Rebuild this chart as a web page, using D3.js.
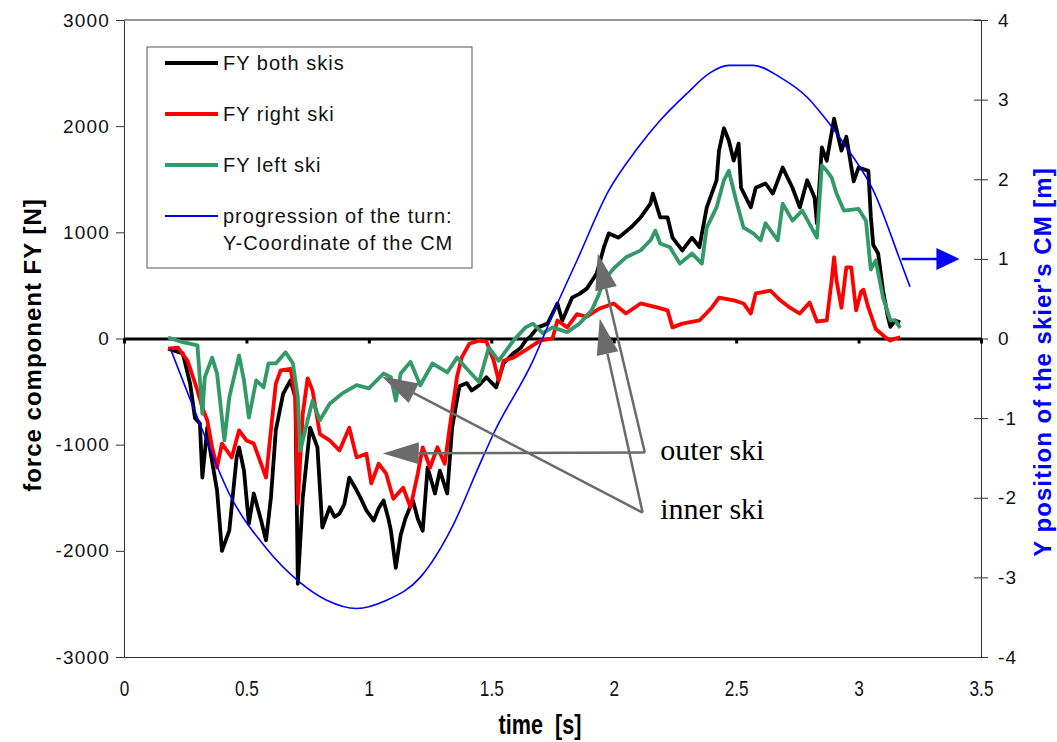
<!DOCTYPE html>
<html>
<head>
<meta charset="utf-8">
<style>
    body { margin: 0; background: #fff; }
    svg { display: block; font-family: "Liberation Sans", Arial, sans-serif; }
    .frame { stroke: #333; stroke-width: 1; fill: none; }
    .yl .tick text, .yr .tick text { font-size: 19px; letter-spacing: 1.2px; fill: #111; }
    .yl .tick line, .yr .tick line { stroke: #333; }
    .yl .domain, .yr .domain { stroke: #333; }
    .xb .tick text { font-size: 22px; fill: #111; }
    .xb .domain { stroke: #333; }
    .zero .domain { stroke: #000; stroke-width: 3; }
    .zero .tick line { stroke: #000; stroke-width: 3; }
    .title { font-weight: bold; font-size: 24px; letter-spacing: 1px; }
    .legend text { font-size: 20px; letter-spacing: 1px; fill: #111; }
    .note { font-family: "Liberation Serif", "Times New Roman", serif; font-size: 30px; fill: #000; }
</style>
</head>
<body>
<svg width="1057" height="742"></svg>

<script src="https://d3js.org/d3.v7.min.js"></script>
<script>
// time [s] , force FY [N]
let fyBoth = [
    [0.18, -95], [0.24, -140], [0.27, -425], [0.29, -750], [0.31, -800], [0.32, -1310], [0.34, -840],
    [0.35, -1025], [0.38, -1430], [0.40, -2000], [0.43, -1810], [0.46, -1120], [0.47, -1025], [0.49, -1245],
    [0.51, -1745], [0.53, -1460], [0.56, -1715], [0.58, -1900], [0.60, -1500], [0.62, -865], [0.65, -520],
    [0.68, -395], [0.70, -555], [0.71, -2310], [0.73, -1500], [0.76, -840], [0.79, -1025], [0.81, -1780],
    [0.84, -1590], [0.86, -1680], [0.88, -1650], [0.90, -1560], [0.92, -1310], [0.95, -1430], [0.97, -1520],
    [0.99, -1620], [1.02, -1715], [1.04, -1600], [1.06, -1525], [1.08, -1700], [1.09, -1810], [1.11, -2160],
    [1.13, -1850], [1.15, -1690], [1.18, -1525], [1.20, -1700], [1.22, -1810], [1.24, -1215], [1.27, -1460],
    [1.29, -1245], [1.32, -1460], [1.34, -840], [1.37, -450], [1.40, -420], [1.42, -490], [1.45, -440],
    [1.48, -365], [1.52, -460], [1.55, -235], [1.59, -140], [1.62, -90], [1.64, -20], [1.66, 20], [1.69, 105],
    [1.73, 140], [1.77, 330], [1.79, 170], [1.83, 385], [1.86, 420], [1.89, 470], [1.93, 610], [1.96, 860],
    [1.98, 990], [2.02, 950], [2.07, 1045], [2.11, 1140], [2.15, 1270], [2.16, 1365], [2.19, 1140],
    [2.22, 1140], [2.24, 950], [2.28, 830], [2.32, 950], [2.35, 860], [2.38, 1235], [2.42, 1490], [2.43, 1770],
    [2.45, 1980], [2.47, 1865], [2.49, 1675], [2.51, 1835], [2.52, 1420], [2.56, 1235], [2.58, 1420],
    [2.62, 1460], [2.65, 1365], [2.69, 1610], [2.73, 1420], [2.76, 1235], [2.79, 1490], [2.82, 1330],
    [2.83, 1085], [2.85, 1800], [2.87, 1675], [2.90, 2070], [2.93, 1770], [2.95, 1900], [2.98, 1480],
    [3.00, 1610], [3.04, 1580], [3.05, 1150], [3.06, 880], [3.08, 800], [3.10, 450], [3.12, 200], [3.13, 110],
    [3.15, 170], [3.17, 150]
]

let fyRight = [
    [0.18, -95], [0.22, -85], [0.26, -210], [0.30, -490], [0.32, -650], [0.34, -770], [0.36, -1025],
    [0.38, -1215], [0.40, -990], [0.44, -1120], [0.47, -865], [0.50, -960], [0.53, -990], [0.56, -1180],
    [0.58, -1310], [0.60, -865], [0.62, -425], [0.64, -300], [0.68, -285], [0.70, -555], [0.71, -1555],
    [0.73, -710], [0.75, -375], [0.77, -490], [0.80, -900], [0.84, -960], [0.88, -1055], [0.92, -840],
    [0.95, -1120], [0.99, -1085], [1.01, -1365], [1.04, -1180], [1.07, -1270], [1.10, -1510], [1.14, -1405],
    [1.17, -1590], [1.20, -1270], [1.22, -1025], [1.25, -1215], [1.28, -1025], [1.31, -1180], [1.33, -840],
    [1.36, -360], [1.38, -175], [1.41, -50], [1.45, -20], [1.48, -30], [1.51, -210], [1.53, -395],
    [1.55, -210], [1.59, -180], [1.64, -110], [1.70, -20], [1.75, 0], [1.77, 170], [1.81, 105], [1.85, 230],
    [1.89, 205], [1.94, 280], [2.00, 330], [2.05, 235], [2.11, 330], [2.18, 290], [2.22, 265], [2.24, 105],
    [2.28, 140], [2.35, 170], [2.40, 290], [2.43, 385], [2.49, 360], [2.53, 330], [2.56, 235], [2.58, 425],
    [2.64, 450], [2.68, 360], [2.72, 290], [2.76, 235], [2.80, 340], [2.83, 160], [2.87, 170], [2.89, 545],
    [2.90, 765], [2.91, 545], [2.93, 290], [2.95, 670], [2.97, 670], [2.99, 265], [3.01, 440], [3.02, 460],
    [3.04, 290], [3.07, 90], [3.11, 10], [3.13, -20], [3.15, 0], [3.17, 10]
]

let fyLeft = [
    [0.18, 10], [0.24, -35], [0.30, -65], [0.32, -710], [0.33, -365], [0.36, -180], [0.38, -330],
    [0.41, -960], [0.43, -555], [0.47, -160], [0.49, -395], [0.51, -745], [0.54, -395], [0.57, -460],
    [0.59, -235], [0.62, -235], [0.66, -130], [0.69, -235], [0.71, -555], [0.72, -1055], [0.75, -770],
    [0.77, -585], [0.80, -770], [0.84, -615], [0.89, -520], [0.95, -440], [1.00, -470], [1.06, -330],
    [1.09, -365], [1.11, -585], [1.13, -330], [1.17, -220], [1.21, -440], [1.26, -235], [1.32, -320],
    [1.36, -180], [1.40, -285], [1.45, -410], [1.49, -85], [1.53, -210], [1.59, -20], [1.64, 105],
    [1.67, 140], [1.71, 50], [1.75, 105], [1.81, 60], [1.86, 140], [1.91, 265], [1.94, 420], [1.96, 545],
    [2.00, 660], [2.05, 765], [2.11, 830], [2.15, 925], [2.17, 1015], [2.19, 895], [2.23, 860], [2.27, 705],
    [2.32, 800], [2.36, 705], [2.38, 1045], [2.42, 1235], [2.45, 1490], [2.47, 1580], [2.50, 1300],
    [2.53, 1045], [2.57, 990], [2.60, 925], [2.62, 1085], [2.67, 925], [2.69, 1270], [2.73, 1110],
    [2.77, 1205], [2.83, 950], [2.85, 1630], [2.87, 1580], [2.89, 1515], [2.91, 1365], [2.94, 1205],
    [3.00, 1220], [3.03, 1110], [3.05, 650], [3.07, 735], [3.10, 385], [3.13, 170], [3.15, 170], [3.17, 100]
]

// time [s] , Y of the CM [m]
let cmY = [
    [0.19, -0.13], [0.31, -1.07], [0.43, -1.95], [0.58, -2.63], [0.71, -3.04], [0.83, -3.29], [0.95, -3.39],
    [1.07, -3.29], [1.21, -3.00], [1.34, -2.37], [1.45, -1.60], [1.51, -1.19], [1.67, -0.28], [1.77, 0.44],
    [1.85, 0.98], [1.98, 1.86], [2.09, 2.36], [2.19, 2.74], [2.30, 3.08], [2.39, 3.33], [2.47, 3.43],
    [2.57, 3.43], [2.68, 3.28], [2.79, 3.03], [2.87, 2.74], [2.96, 2.36], [3.06, 1.86], [3.17, 0.98], [3.21, 0.65]
]

let xTicks = [0, 0.5, 1, 1.5, 2, 2.5, 3, 3.5]
let yLeftTicks = [-3000, -2000, -1000, 0, 1000, 2000, 3000]
let yRightTicks = [-4, -3, -2, -1, 0, 1, 2, 3, 4]

let legendNames = ["FY both skis", "FY right ski", "FY left ski", "progression of the turn:"]
let legendColors = ["#000000", "#ff0000", "#339966", "#0000ff"]

// annotation arrows: [from t, from FY, to t, to FY]
let annoArrows = [
    [2.127, -1074, 1.057, -1083],
    [2.127, -1074, 1.935, 800],
    [2.118, -1640, 1.053, -358],
    [2.118, -1640, 1.943, 188]
]
let annoLabels = [["outer ski", 2.19, -1140], ["inner ski", 2.19, -1700]]

let svg = d3.select("svg")

let x = d3.scaleLinear().domain([0, 3.5]).range([124, 981])
let y = d3.scaleLinear().domain([-3000, 3000]).range([657, 20])
let y2 = d3.scaleLinear().domain([-4, 4]).range([657, 20])

let plain = d => String(d)

// frame
svg.append("line").attr("class", "frame")
    .attr("x1", x(0)).attr("x2", x(3.5)).attr("y1", y(3000)).attr("y2", y(3000))

let xb = svg.append("g")
    .attr("class", "xb")
    .attr("transform", `translate(0,${y(-3000)})`)
    .call(d3.axisBottom(x).tickValues(xTicks).tickSize(0).tickPadding(23).tickFormat(plain))
xb.selectAll(".tick text").attr("transform", "scale(0.78,1)")

svg.append("g")
    .attr("class", "yl")
    .attr("transform", `translate(${x(0)},0)`)
    .call(d3.axisLeft(y).tickValues(yLeftTicks).tickSize(8).tickPadding(6).tickSizeOuter(0).tickFormat(plain))

let yr = svg.append("g")
    .attr("class", "yr")
    .attr("transform", `translate(${x(3.5)},0)`)
    .call(d3.axisRight(y2).tickValues(yRightTicks).tickSize(7).tickPadding(10).tickSizeOuter(0).tickFormat(plain))
yr.selectAll(".tick line").attr("x1", -7)

// zero line with ticks
svg.append("g")
    .attr("class", "zero")
    .attr("transform", `translate(0,${y(0)})`)
    .call(d3.axisBottom(x).tickValues(xTicks).tickSize(5).tickSizeOuter(0).tickFormat(""))

// series
let line = d3.line().x(d => x(d[0])).y(d => y(d[1]))
let line2 = d3.line().x(d => x(d[0])).y(d => y2(d[1])).curve(d3.curveMonotoneX)

let series = [fyBoth, fyRight, fyLeft]
series.forEach((s, i) => {
    svg.append("path")
        .datum(s)
        .attr("fill", "none")
        .attr("stroke", legendColors[i])
        .attr("stroke-width", 3.8)
        .attr("stroke-linejoin", "round")
        .attr("d", line)
})

svg.append("path")
    .datum(cmY)
    .attr("fill", "none")
    .attr("stroke", legendColors[3])
    .attr("stroke-width", 1.6)
    .attr("d", line2)

// blue arrow to the right axis
let bx1 = x(3.176), bx2 = x(3.412), by = y2(1)
svg.append("line")
    .attr("x1", bx1).attr("x2", bx2 - 22).attr("y1", by).attr("y2", by)
    .attr("stroke", "#0000ff").attr("stroke-width", 2.5)
svg.append("path")
    .attr("d", `M${bx2},${by} L${bx2 - 23},${by - 11} L${bx2 - 23},${by + 11} Z`)
    .attr("fill", "#0000ff")

// gray annotation arrows
annoArrows.forEach(a => {
    let x1 = x(a[0]), y1 = y(a[1]), x2 = x(a[2]), y2p = y(a[3])
    let ang = Math.atan2(y2p - y1, x2 - x1)
    let len = 36, hw = 11
    let bxp = x2 - len * Math.cos(ang), byp = y2p - len * Math.sin(ang)
    svg.append("line")
        .attr("x1", x1).attr("y1", y1).attr("x2", bxp).attr("y2", byp)
        .attr("stroke", "#6b6b6b").attr("stroke-width", 2.5)
    svg.append("path")
        .attr("d", `M${x2},${y2p} L${bxp + hw * Math.sin(ang)},${byp - hw * Math.cos(ang)} L${bxp - hw * Math.sin(ang)},${byp + hw * Math.cos(ang)} Z`)
        .attr("fill", "#6b6b6b")
})

svg.selectAll(".note")
    .data(annoLabels)
    .join("text")
    .attr("class", "note")
    .attr("x", d => x(d[1]))
    .attr("y", d => y(d[2]))
    .text(d => d[0])

// legend
let legend = svg.append("g").attr("class", "legend")
legend.append("rect")
    .attr("x", 147).attr("y", 47).attr("width", 325).attr("height", 221)
    .attr("fill", "#fff").attr("stroke", "#555").attr("stroke-width", 1)

legendNames.forEach((name, i) => {
    let ly = 63 + i * 51
    legend.append("line")
        .attr("x1", 165).attr("x2", 218).attr("y1", ly).attr("y2", ly)
        .attr("stroke", legendColors[i])
        .attr("stroke-width", i == 3 ? 2 : 4)
    legend.append("text")
        .attr("x", 223).attr("y", ly)
        .attr("dy", "0.35em")
        .text(name)
})
legend.append("text")
    .attr("x", 223).attr("y", 243)
    .attr("dy", "0.35em")
    .text("Y-Coordinate of the CM")

// axis titles
svg.append("text")
    .attr("class", "title")
    .attr("transform", `translate(41,345) rotate(-90)`)
    .attr("text-anchor", "middle")
    .text("force component FY [N]")

svg.append("text")
    .attr("class", "title")
    .attr("transform", `translate(1051,362) rotate(-90)`)
    .attr("text-anchor", "middle")
    .style("fill", "#0000ff")
    .text("Y position of the skier's CM [m]")

svg.append("text")
    .attr("class", "title")
    .attr("transform", "translate(540,734) scale(0.8,1)")
    .attr("text-anchor", "middle")
    .style("font-size", "27px")
    .style("letter-spacing", "0px")
    .attr("xml:space", "preserve")
    .text("time  [s]")
</script>
</body>
</html>
